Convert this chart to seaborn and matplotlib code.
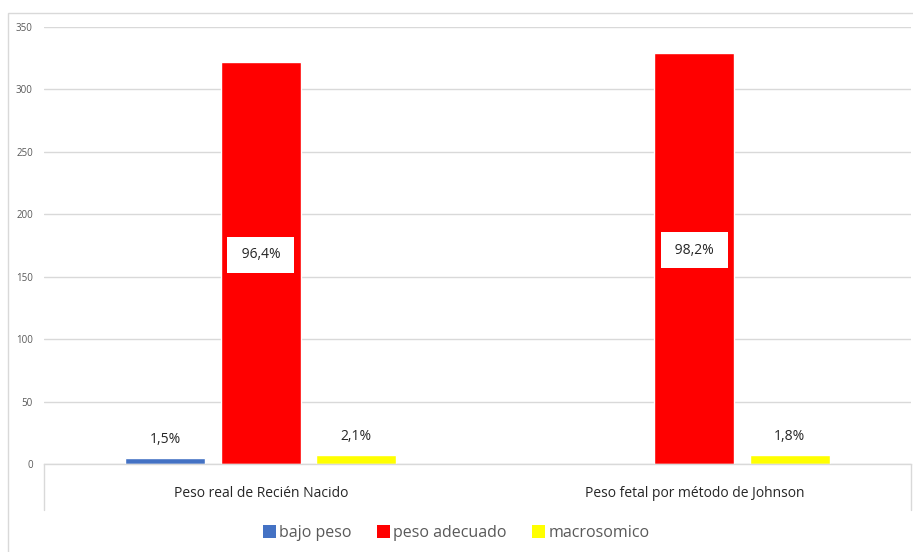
import matplotlib
matplotlib.use("Agg")
import matplotlib.pyplot as plt
import seaborn as sns
import pandas as pd
from matplotlib.lines import Line2D
from matplotlib.patches import Rectangle, Patch

categories = ["Peso real de Recién Nacido", "Peso fetal por método de Johnson"]
series = ["bajo peso", "peso adecuado", "macrosomico"]
bajo_peso = [5, 0]
peso_adecuado = [322, 329]
macrosomico = [7, 7]
labels_bajo = ["1,5%", ""]
labels_adecuado = ["96,4%", "98,2%"]
labels_macro = ["2,1%", "1,8%"]
colors = ["#4472C4", "#FF0000", "#FFFF00"]
yticks = [0, 50, 100, 150, 200, 250, 300, 350]

rows = []
for i, c in enumerate(categories):
    rows.append((c, series[0], bajo_peso[i], labels_bajo[i]))
    rows.append((c, series[1], peso_adecuado[i], labels_adecuado[i]))
    rows.append((c, series[2], macrosomico[i], labels_macro[i]))
df = pd.DataFrame(rows, columns=["cat", "serie", "val", "lab"])

sns.set_theme(style="white")
plt.rcParams['font.family'] = ['Open Sans', 'DejaVu Sans']

fig = plt.figure(figsize=(9.13, 5.52), dpi=100)
ax = fig.add_axes([44/913, 1-464/552, (911-44)/913, (464-27)/552])

sns.barplot(data=df, x="cat", y="val", hue="serie", palette=colors,
            width=0.66, gap=0.16, ax=ax, legend=False, saturation=1,
            order=categories, hue_order=series)

ax.set_ylim(0, 350)
ax.set_yticks(yticks)
ax.set_xlim(-0.5, 1.5)
ax.yaxis.grid(True, color="#d9d9d9", linewidth=1)
ax.set_axisbelow(True)
for s in ["left", "right", "top"]:
    ax.spines[s].set_visible(False)
ax.spines["bottom"].set_color("#d9d9d9")
ax.spines["bottom"].set_linewidth(1)
ax.set_xlabel("")
ax.set_ylabel("")
ax.tick_params(axis="y", labelsize=7, colors="#595959", length=0, pad=8)
ax.tick_params(axis="x", labelsize=10, colors="#262626", length=0, pad=16)

# data labels
for ci, cont in enumerate(ax.containers):
    s = series[ci]
    for bi, bar in enumerate(cont):
        lab = df[(df.serie == s)].lab.values[bi]
        if not lab:
            continue
        x = bar.get_x() + bar.get_width() / 2
        h = bar.get_height()
        if s == "peso adecuado":
            ax.text(x, h * 0.52, " " + lab + " ", ha="center", va="center", fontsize=10,
                    color="#262626",
                    bbox=dict(boxstyle="square,pad=0.75", fc="white", ec="none"))
        else:
            ax.text(x, h + 9, lab, ha="center", va="bottom", fontsize=10,
                    color="#262626")

# category axis side lines
for xv in [0.0, 1.0]:
    ax.add_line(Line2D([xv, xv], [0, -46/552/((464-27)/552)], transform=ax.transAxes,
                       color="#d9d9d9", linewidth=1, clip_on=False))

# chart border
fig.add_artist(Rectangle((8/913, -0.02), 1.0, 1 - 13/552 + 0.02, transform=fig.transFigure,
                         fill=False, edgecolor="#d9d9d9", linewidth=1))

handles = [Patch(facecolor=c, edgecolor="none") for c in colors]
fig.legend(handles, series, loc="center", bbox_to_anchor=(0.5, 1 - 533/552), ncol=3,
           frameon=False, fontsize=11.5, labelcolor="#595959",
           handlelength=0.8, handleheight=0.8, handletextpad=0.2, columnspacing=1.6)

fig.savefig("out.png", dpi=100)
